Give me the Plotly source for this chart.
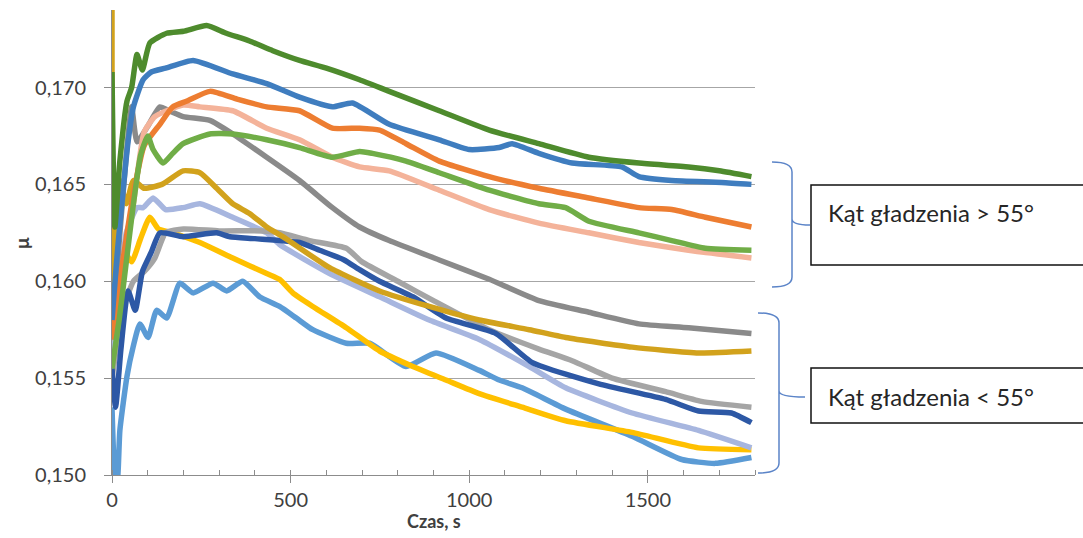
import plotly.graph_objects as go

# ---------------- data ----------------
t_dgreen = [0, 8, 22, 42, 55, 70, 85, 106, 153, 200, 265, 320, 385, 450, 525, 600, 693, 776, 916, 1056, 1195, 1335, 1475, 1614, 1700, 1790]
v_dgreen = [0.1708, 0.1628, 0.1662, 0.1693, 0.1700, 0.1717, 0.1709, 0.1723, 0.1728, 0.1729, 0.1732, 0.1728, 0.1724, 0.1719, 0.1714, 0.1710, 0.1704, 0.1698, 0.1688, 0.1678, 0.1671, 0.1664, 0.1661, 0.1659, 0.1657, 0.1654]

t_blue = [0, 15, 30, 45, 60, 87, 110, 150, 227, 338, 433, 525, 617, 673, 776, 916, 1000, 1084, 1120, 1195, 1288, 1427, 1475, 1567, 1707, 1790]
v_blue = [0.1580, 0.1615, 0.1645, 0.1672, 0.1690, 0.1704, 0.1708, 0.1710, 0.1714, 0.1707, 0.1702, 0.1695, 0.1690, 0.1692, 0.1681, 0.1673, 0.1668, 0.1669, 0.1671, 0.1666, 0.1661, 0.1659, 0.1654, 0.1652, 0.1651, 0.1650]

t_orange = [0, 30, 60, 90, 134, 170, 210, 274, 350, 433, 525, 617, 693, 749, 823, 916, 1056, 1195, 1335, 1475, 1567, 1661, 1790]
v_orange = [0.1570, 0.1610, 0.1645, 0.1670, 0.1681, 0.1690, 0.1693, 0.1698, 0.1694, 0.1690, 0.1688, 0.1679, 0.1679, 0.1678, 0.1671, 0.1662, 0.1654, 0.1648, 0.1643, 0.1638, 0.1637, 0.1633, 0.1628]

t_salmon = [0, 30, 60, 90, 120, 153, 200, 246, 338, 433, 525, 617, 693, 776, 916, 1056, 1195, 1335, 1475, 1614, 1790]
v_salmon = [0.1575, 0.1605, 0.1640, 0.1677, 0.1685, 0.1688, 0.1691, 0.1690, 0.1688, 0.1679, 0.1673, 0.1664, 0.1659, 0.1657, 0.1647, 0.1637, 0.1630, 0.1625, 0.1620, 0.1616, 0.1612]

t_lgreen = [0, 20, 40, 60, 80, 100, 115, 143, 170, 199, 274, 338, 433, 525, 617, 693, 729, 823, 916, 1056, 1195, 1270, 1335, 1475, 1567, 1661, 1790]
v_lgreen = [0.1555, 0.1580, 0.1610, 0.1640, 0.1665, 0.1675, 0.1668, 0.1661, 0.1666, 0.1671, 0.1676, 0.1676, 0.1673, 0.1669, 0.1664, 0.1667, 0.1666, 0.1662, 0.1656, 0.1647, 0.1640, 0.1638, 0.1631, 0.1625, 0.1621, 0.1617, 0.1616]

t_gray = [0, 20, 40, 55, 70, 100, 134, 160, 199, 274, 338, 433, 525, 617, 693, 776, 916, 1056, 1195, 1335, 1475, 1614, 1790]
v_gray = [0.1570, 0.1620, 0.1665, 0.1690, 0.1672, 0.1680, 0.1690, 0.1688, 0.1685, 0.1683, 0.1676, 0.1664, 0.1652, 0.1638, 0.1628, 0.1621, 0.1611, 0.1601, 0.1590, 0.1584, 0.1578, 0.1576, 0.1573]

t_gold = [0, 3, 12, 22, 40, 60, 90, 140, 199, 246, 293, 338, 385, 433, 478, 609, 749, 888, 1028, 1168, 1270, 1456, 1642, 1790]
v_gold = [0.1745, 0.1575, 0.1600, 0.1652, 0.1640, 0.1652, 0.1648, 0.1650, 0.1657, 0.1656, 0.1648, 0.1640, 0.1635, 0.1628, 0.1623, 0.1607, 0.1595, 0.1587, 0.1580, 0.1575, 0.1571, 0.1566, 0.1563, 0.1564]

t_lav = [0, 20, 40, 70, 87, 115, 150, 199, 246, 338, 433, 469, 609, 749, 888, 1028, 1168, 1270, 1456, 1642, 1790]
v_lav = [0.1555, 0.1590, 0.1625, 0.1638, 0.1638, 0.1643, 0.1637, 0.1638, 0.1640, 0.1633, 0.1625, 0.1619, 0.1604, 0.1592, 0.1580, 0.1570, 0.1556, 0.1545, 0.1532, 0.1523, 0.1514]

t_lgray = [0, 30, 60, 90, 120, 150, 200, 300, 420, 469, 553, 656, 700, 800, 900, 1056, 1195, 1288, 1400, 1550, 1650, 1790]
v_lgray = [0.1550, 0.1585, 0.1600, 0.1605, 0.1612, 0.1625, 0.1627, 0.1626, 0.1626, 0.1625, 0.1621, 0.1617, 0.1610, 0.1600, 0.1590, 0.1575, 0.1565, 0.1559, 0.1550, 0.1543, 0.1538, 0.1535]

t_navy = [0, 10, 25, 45, 65, 85, 110, 134, 199, 293, 330, 400, 525, 581, 650, 693, 749, 842, 935, 1075, 1177, 1363, 1550, 1642, 1734, 1790]
v_navy = [0.1555, 0.1535, 0.1565, 0.1595, 0.1585, 0.1605, 0.1615, 0.1625, 0.1623, 0.1625, 0.1623, 0.1622, 0.1620, 0.1616, 0.1611, 0.1606, 0.1600, 0.1592, 0.1581, 0.1573, 0.1558, 0.1547, 0.1539, 0.1533, 0.1532, 0.1527]

t_yellow = [0, 15, 35, 55, 80, 106, 130, 170, 246, 338, 433, 469, 506, 562, 656, 749, 842, 935, 1028, 1148, 1270, 1456, 1642, 1790]
v_yellow = [0.1560, 0.1595, 0.1615, 0.1610, 0.1622, 0.1633, 0.1627, 0.1625, 0.1620, 0.1612, 0.1604, 0.1601, 0.1594, 0.1587, 0.1576, 0.1564, 0.1556, 0.1549, 0.1542, 0.1535, 0.1528, 0.1522, 0.1514, 0.1513]

t_sky = [0, 8, 15, 22, 42, 59, 78, 101, 125, 153, 190, 227, 283, 321, 366, 413, 469, 516, 562, 656, 721, 823, 907, 1028, 1084, 1148, 1270, 1456, 1595, 1689, 1790]
v_sky = [0.1535, 0.1501, 0.1498, 0.1523, 0.1551, 0.1566, 0.1578, 0.1571, 0.1585, 0.1581, 0.1599, 0.1594, 0.1599, 0.1595, 0.1600, 0.1592, 0.1587, 0.1581, 0.1575, 0.1568, 0.1568, 0.1556, 0.1563, 0.1554, 0.1549, 0.1545, 0.1534, 0.1520, 0.1508, 0.1506, 0.1509]

y_ticks = [0.150, 0.155, 0.160, 0.165, 0.170]
x_ticks = [0, 500, 1000, 1500]
label_upper = "Kąt gładzenia > 55°"
label_lower = "Kąt gładzenia < 55°"
x_title = "Czas, s"
y_title = "μ"

# draw order: first = bottom
series = [
    (t_sky, v_sky, "#5B9BD5"),
    (t_yellow, v_yellow, "#FFC000"),
    (t_lav, v_lav, "#A7B6DF"),
    (t_lgray, v_lgray, "#A5A5A5"),
    (t_navy, v_navy, "#2D58A5"),
    (t_gold, v_gold, "#D2A21C"),
    (t_gray, v_gray, "#8A8A8A"),
    (t_salmon, v_salmon, "#F4B39A"),
    (t_orange, v_orange, "#ED7D31"),
    (t_lgreen, v_lgreen, "#70AD47"),
    (t_blue, v_blue, "#3F7DBF"),
    (t_dgreen, v_dgreen, "#4E8B2D"),
]

W, H = 1083, 538
PX0, PX1, PY0, PY1 = 112, 755, 10, 475


def px(x):
    return (x - PX0) / (PX1 - PX0)


def py(y):
    return (PY1 - y) / (PY1 - PY0)


fig = go.Figure()
for t, v, c in series:
    fig.add_trace(go.Scatter(x=t, y=v, mode="lines",
                             line=dict(color=c, width=5.5, shape="spline", smoothing=0.5),
                             showlegend=False, hoverinfo="skip"))

FONT = "Lato, Open Sans, sans-serif"
TXT = "#404040"


def brace(xtip, xv, xnub, ytop, ymid, ybot):
    r = 10
    pts = [
        f"M {px(xtip)},{py(ytop)}",
        f"Q {px(xv)},{py(ytop)} {px(xv)},{py(ytop + r)}",
        f"L {px(xv)},{py(ymid - 6)}",
        f"Q {px(xv)},{py(ymid)} {px(xnub)},{py(ymid)}",
        f"M {px(xv)},{py(ymid - 6)}",
        f"Q {px(xv)},{py(ymid)} {px(xv)},{py(ymid + 6)}",
        f"L {px(xv)},{py(ybot - r)}",
        f"Q {px(xv)},{py(ybot)} {px(xtip)},{py(ybot)}",
    ]
    return dict(type="path", xref="paper", yref="paper", path=" ".join(pts),
                line=dict(color="#5B84C8", width=1.5))


shapes = [
    brace(772, 792, 810, 162, 225, 287),
    brace(758, 779, 805, 313, 397, 473),
    dict(type="rect", xref="paper", yref="paper", x0=px(811), x1=px(1100), y0=py(265), y1=py(185),
         line=dict(color="#111111", width=1.5), fillcolor="rgba(0,0,0,0)"),
    dict(type="rect", xref="paper", yref="paper", x0=px(811), x1=px(1100), y0=py(423), y1=py(368),
         line=dict(color="#111111", width=1.5), fillcolor="rgba(0,0,0,0)"),
]

annotations = [
    dict(text=label_upper, xref="paper", yref="paper", x=px(826), y=py(213), xanchor="left", yanchor="middle",
         showarrow=False, font=dict(family=FONT, size=24, color="#262626")),
    dict(text=label_lower, xref="paper", yref="paper", x=px(826), y=py(396), xanchor="left", yanchor="middle",
         showarrow=False, font=dict(family=FONT, size=24, color="#262626")),
    dict(text="<b>" + x_title + "</b>", xref="paper", yref="paper", x=px(434), y=py(521), xanchor="center",
         yanchor="middle", showarrow=False, font=dict(family=FONT, size=18, color=TXT)),
    dict(text="<b>" + y_title + "</b>", xref="paper", yref="paper", x=px(21), y=py(243), xanchor="center",
         yanchor="middle", textangle=-90, showarrow=False, font=dict(family=FONT, size=19, color=TXT)),
]

fig.update_layout(
    width=W, height=H, autosize=False,
    margin=dict(l=PX0, r=W - PX1, t=PY0, b=H - PY1),
    paper_bgcolor="white", plot_bgcolor="white",
    separators=",.",
    shapes=shapes, annotations=annotations,
    font=dict(family=FONT, color=TXT),
)
fig.update_xaxes(
    range=[0, 1800], tickvals=x_ticks, tickformat="d",
    showgrid=False, zeroline=False,
    showline=True, linecolor="#8C8C8C", linewidth=1,
    ticks="outside", ticklen=7, tickcolor="#8C8C8C",
    minor=dict(dtick=100, ticks="inside", ticklen=5, tickcolor="#8C8C8C", showgrid=False),
    tickfont=dict(family=FONT, size=20, color=TXT),
)
fig.update_yaxes(
    range=[0.150, 0.174], tickvals=y_ticks, tickformat=".3f",
    showgrid=True, gridcolor="#A6A6A6", gridwidth=1, zeroline=False,
    showline=True, linecolor="#8C8C8C", linewidth=1,
    ticks="outside", ticklen=7, tickcolor="#8C8C8C",
    ticklabelstandoff=14,
    tickfont=dict(family=FONT, size=20, color=TXT),
)

fig.write_html("out.html", config={"displayModeBar": False},
               post_script="document.body.style.margin='0';document.body.style.overflow='hidden';")
